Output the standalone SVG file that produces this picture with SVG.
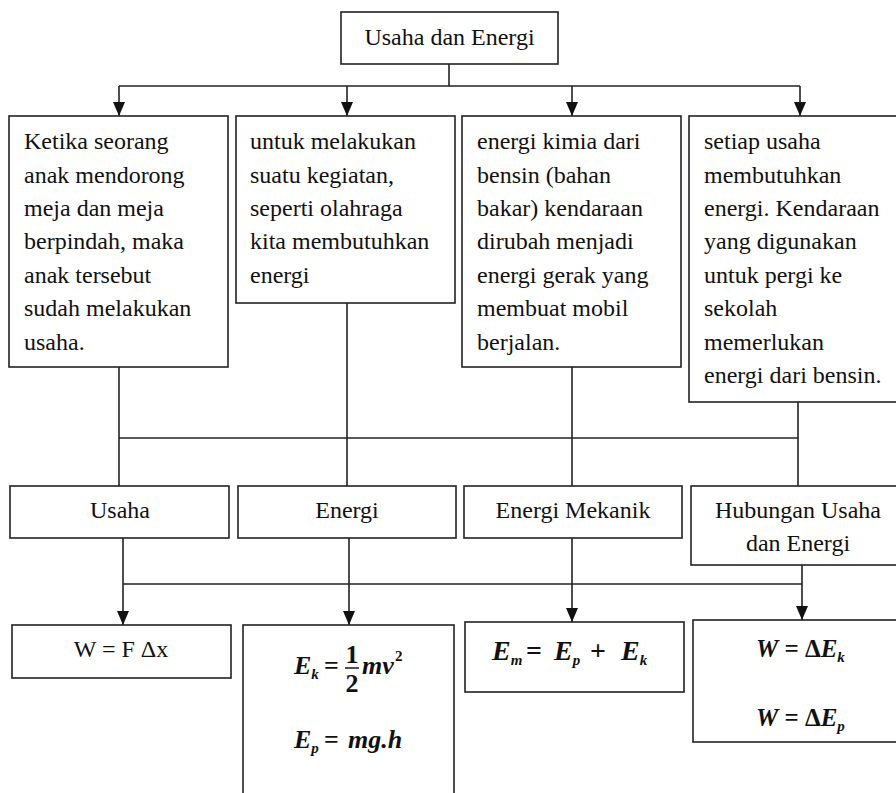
<svg xmlns="http://www.w3.org/2000/svg" width="896" height="793" viewBox="0 0 896 793">
<defs>
<style>
.box{fill:#fff;stroke:#222;stroke-width:1.6}
.t{font-family:"Liberation Serif","Times New Roman",serif;font-size:24px;fill:#111}
.c{text-anchor:middle}
.m{font-family:"Liberation Serif","Times New Roman",serif;font-weight:bold;font-style:italic;font-size:26px;fill:#111}
.n{font-family:"Liberation Serif","Times New Roman",serif;font-weight:bold;font-size:26px;fill:#111}
.s{font-size:15px}
.ln{stroke:#222;stroke-width:1.6;fill:none}
</style>
<marker id="ah" viewBox="0 0 14 12" refX="14" refY="6" markerWidth="14" markerHeight="12" markerUnits="userSpaceOnUse" orient="auto">
<path d="M0,0 L14,6 L0,12 Z" fill="#111"/>
</marker>
</defs>
<rect width="896" height="793" fill="#fff"/>

<g id="connectors">
<line class="ln" x1="449" y1="64" x2="449" y2="86"/>
<line class="ln" x1="119" y1="86" x2="800" y2="86"/>
<line class="ln" x1="119" y1="86" x2="119" y2="116" marker-end="url(#ah)"/>
<line class="ln" x1="347" y1="86" x2="347" y2="116" marker-end="url(#ah)"/>
<line class="ln" x1="572" y1="86" x2="572" y2="116" marker-end="url(#ah)"/>
<line class="ln" x1="800" y1="86" x2="800" y2="116" marker-end="url(#ah)"/>

<line class="ln" x1="119" y1="367" x2="119" y2="486"/>
<line class="ln" x1="347" y1="303" x2="347" y2="486"/>
<line class="ln" x1="572" y1="367" x2="572" y2="486"/>
<line class="ln" x1="798" y1="402" x2="798" y2="486"/>
<line class="ln" x1="119" y1="438" x2="798" y2="438"/>

<line class="ln" x1="123" y1="584" x2="802" y2="584"/>
<line class="ln" x1="123" y1="538" x2="123" y2="625" marker-end="url(#ah)"/>
<line class="ln" x1="349" y1="538" x2="349" y2="625" marker-end="url(#ah)"/>
<line class="ln" x1="572" y1="538" x2="572" y2="622" marker-end="url(#ah)"/>
<line class="ln" x1="802" y1="565" x2="802" y2="620" marker-end="url(#ah)"/>
</g>

<g id="root">
<rect class="box" x="341" y="12" width="217" height="52"/>
<text class="t c" x="449.5" y="45">Usaha dan Energi</text>
</g>

<g id="desc1">
<rect class="box" x="9" y="116" width="219" height="251"/>
<text class="t" x="24" y="149">Ketika seorang</text>
<text class="t" x="24" y="183">anak mendorong</text>
<text class="t" x="24" y="216">meja dan meja</text>
<text class="t" x="24" y="249">berpindah, maka</text>
<text class="t" x="24" y="283">anak tersebut</text>
<text class="t" x="24" y="316">sudah melakukan</text>
<text class="t" x="24" y="350">usaha.</text>
</g>

<g id="desc2">
<rect class="box" x="236" y="116" width="219" height="187"/>
<text class="t" x="250" y="149">untuk melakukan</text>
<text class="t" x="250" y="183">suatu kegiatan,</text>
<text class="t" x="250" y="216">seperti olahraga</text>
<text class="t" x="250" y="249">kita membutuhkan</text>
<text class="t" x="250" y="283">energi</text>
</g>

<g id="desc3">
<rect class="box" x="462" y="116" width="219" height="251"/>
<text class="t" x="477" y="149">energi kimia dari</text>
<text class="t" x="477" y="183">bensin (bahan</text>
<text class="t" x="477" y="216">bakar) kendaraan</text>
<text class="t" x="477" y="249">dirubah menjadi</text>
<text class="t" x="477" y="283">energi gerak yang</text>
<text class="t" x="477" y="316">membuat mobil</text>
<text class="t" x="477" y="350">berjalan.</text>
</g>

<g id="desc4">
<rect class="box" x="689" y="116" width="215" height="286"/>
<text class="t" x="704" y="149">setiap usaha</text>
<text class="t" x="704" y="183">membutuhkan</text>
<text class="t" x="704" y="216">energi. Kendaraan</text>
<text class="t" x="704" y="249">yang digunakan</text>
<text class="t" x="704" y="283">untuk pergi ke</text>
<text class="t" x="704" y="316">sekolah</text>
<text class="t" x="704" y="350">memerlukan</text>
<text class="t" x="704" y="383">energi dari bensin.</text>
</g>

<g id="usaha">
<rect class="box" x="10" y="486" width="219" height="52"/>
<text class="t c" x="120" y="518">Usaha</text>
</g>
<g id="energi">
<rect class="box" x="238" y="486" width="218" height="52"/>
<text class="t c" x="347" y="518">Energi</text>
</g>
<g id="mekanik">
<rect class="box" x="464" y="486" width="218" height="52"/>
<text class="t c" x="573" y="518">Energi Mekanik</text>
</g>
<g id="hubungan">
<rect class="box" x="691" y="486" width="213" height="79"/>
<text class="t c" x="798" y="518">Hubungan Usaha</text>
<text class="t c" x="798" y="551">dan Energi</text>
</g>

<g id="f-usaha">
<rect class="box" x="12" y="625" width="219" height="53"/>
<text class="t c" x="121" y="657">W = F Δx</text>
</g>

<g id="f-energi">
<rect class="box" x="243" y="625" width="211" height="180"/>
<text class="m" x="294" y="674">E<tspan class="s" dy="5">k</tspan></text>
<text class="n" x="324" y="674">=</text>
<text class="n" x="352" y="663" text-anchor="middle">1</text>
<line class="ln" x1="345" y1="668" x2="359" y2="668"/>
<text class="n" x="352" y="692" text-anchor="middle">2</text>
<text class="m" x="362" y="674">mv</text>
<text class="n s" x="395" y="661">2</text>
<text class="m" x="294" y="748">E<tspan class="s" dy="5">p</tspan></text>
<text class="n" x="324" y="748">=</text>
<text class="m" x="348" y="748">mg.h</text>
</g>

<g id="f-mekanik">
<rect class="box" x="465" y="622" width="219" height="70"/>
<text class="m" x="492" y="660" style="font-size:28px">E<tspan class="s" dy="5">m</tspan></text>
<text class="n" x="526" y="660" style="font-size:28px">=</text>
<text class="m" x="554" y="660" style="font-size:28px">E<tspan class="s" dy="5">p</tspan></text>
<text class="n" x="590" y="660" style="font-size:28px">+</text>
<text class="m" x="621" y="660" style="font-size:28px">E<tspan class="s" dy="5">k</tspan></text>
</g>

<g id="f-hubungan">
<rect class="box" x="693" y="620" width="211" height="122"/>
<text class="m" x="756" y="657" style="font-size:25px">W<tspan style="font-style:normal"> = Δ</tspan>E<tspan class="s" dy="5">k</tspan></text>
<text class="m" x="756" y="726" style="font-size:25px">W<tspan style="font-style:normal"> = Δ</tspan>E<tspan class="s" dy="5">p</tspan></text>
</g>
</svg>
